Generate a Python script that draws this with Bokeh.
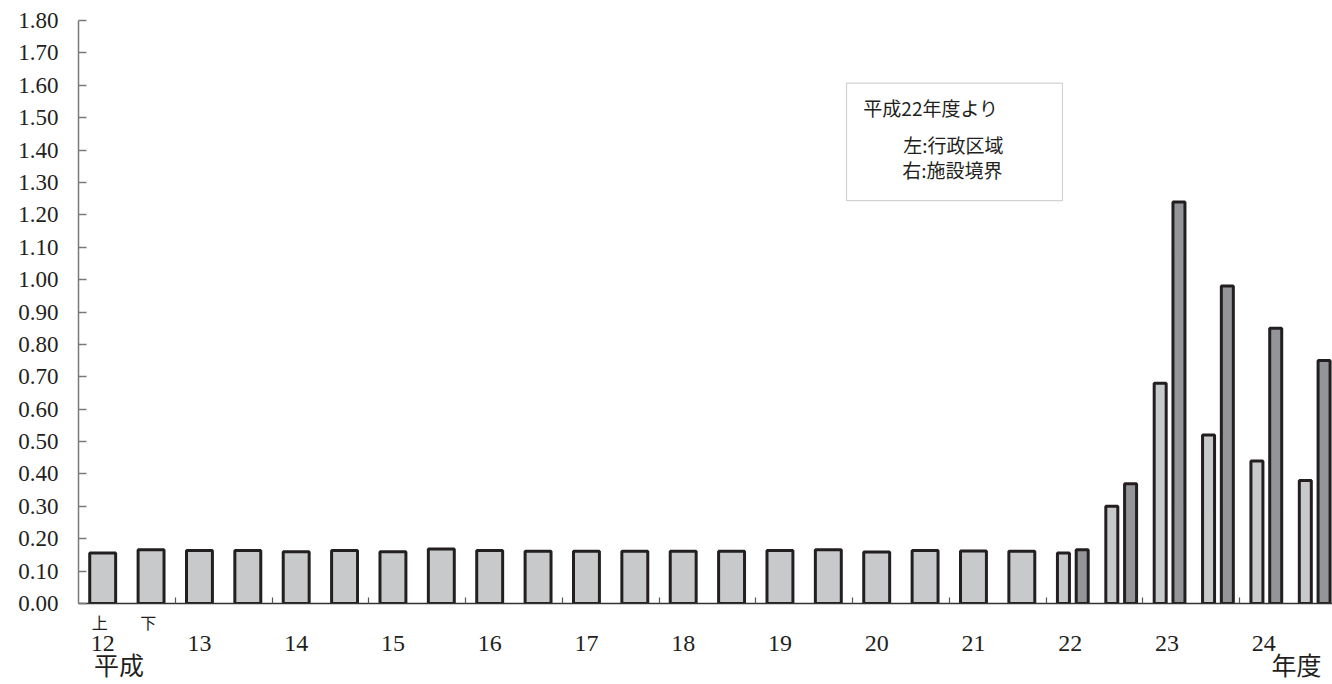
from bokeh.plotting import figure
from bokeh.models import Range1d, FixedTicker, PrintfTickFormatter, LinearAxis, BoxAnnotation, Label
from bokeh.embed import file_html
from bokeh.resources import INLINE

# ---------------- data ----------------
years = [12, 13, 14, 15, 16, 17, 18, 19, 20, 21, 22, 23, 24]
half_labels = ["上", "下"]
# single series: 12上 .. 21下
single_vals = [0.156, 0.166, 0.164, 0.164, 0.160, 0.164, 0.160, 0.168, 0.164, 0.161,
               0.161, 0.161, 0.161, 0.161, 0.164, 0.166, 0.159, 0.164, 0.162, 0.161]
# from 22上 .. 24下 : left = 行政区域, right = 施設境界
admin_vals = [0.156, 0.30, 0.68, 0.52, 0.44, 0.38]
site_vals = [0.166, 0.37, 1.24, 0.98, 0.85, 0.75]
y_ticks = [0.0, 0.1, 0.2, 0.3, 0.4, 0.5, 0.6, 0.7, 0.8, 0.9, 1.0, 1.1, 1.2, 1.3, 1.4, 1.5, 1.6, 1.7, 1.8]
legend_lines = ["平成22年度より", "左:行政区域", "右:施設境界"]
era_label = "平成"
unit_label = "年度"

# ---------------- styling ----------------
LIGHT = "#c8c9cb"
DARK = "#939598"
EDGE = "#231f20"
TXT = "#231f20"

slots_single = [y + 0.5 * h for y in years[:10] for h in range(2)]
slots_pair = [y + 0.5 * h for y in years[10:] for h in range(2)]

p = figure(width=1332, height=684, output_backend="svg", toolbar_location=None,
           x_range=Range1d(11.75, 24.711), y_range=Range1d(0, 1.8),
           x_axis_type=None,
           min_border_left=78, min_border_right=0, min_border_top=20, min_border_bottom=81)
p.outline_line_color = None
p.xgrid.visible = False
p.ygrid.visible = False
p.background_fill_color = "white"

# bars
p.vbar(x=slots_single, top=single_vals, width=0.268, bottom=0,
       fill_color=LIGHT, line_color=EDGE, line_width=3)
p.vbar(x=[s - 0.070 for s in slots_pair], top=admin_vals, width=0.124, bottom=0,
       fill_color=LIGHT, line_color=EDGE, line_width=3)
p.vbar(x=[s + 0.124 for s in slots_pair], top=site_vals, width=0.124, bottom=0,
       fill_color=DARK, line_color=EDGE, line_width=3)

# y axis
ya = p.yaxis[0]
ya.ticker = FixedTicker(ticks=y_ticks)
ya.formatter = PrintfTickFormatter(format="%.2f")
ya.major_tick_in = 8
ya.major_tick_out = 0
ya.minor_tick_line_color = None
ya.axis_line_color = "#7a7a7a"
ya.axis_line_width = 1.5
ya.major_tick_line_color = "#7a7a7a"
ya.major_tick_line_width = 1.5
ya.major_label_standoff = 20
ya.major_label_text_font = "Liberation Serif"
ya.major_label_text_font_size = "23px"
ya.major_label_text_color = TXT

# x axis 1: axis line, year-boundary ticks, 上 / 下 marks
half_ticks = [years[0] - 0.03 + 0.5 * i for i in range(len(half_labels))]
xa1 = LinearAxis(ticker=FixedTicker(ticks=half_ticks, minor_ticks=[y + 0.75 for y in years[:-1]]),
                 major_label_overrides={t: h for t, h in zip(half_ticks, half_labels)})
xa1.major_tick_line_color = None
xa1.major_tick_in = 0
xa1.major_tick_out = 0
xa1.minor_tick_in = 6
xa1.minor_tick_out = 0
xa1.minor_tick_line_color = "#555555"
xa1.minor_tick_line_width = 1.2
xa1.axis_line_color = "#333333"
xa1.axis_line_width = 1.5
xa1.major_label_standoff = 6
xa1.major_label_text_font = "Noto Sans CJK JP"
xa1.major_label_text_font_size = "16px"
xa1.major_label_text_color = TXT
p.add_layout(xa1, "below")

# x axis 2: year numbers
xa2 = LinearAxis(ticker=FixedTicker(ticks=years),
                 major_label_overrides={y: str(y) for y in years})
xa2.axis_line_color = None
xa2.major_tick_line_color = None
xa2.major_tick_in = 0
xa2.major_tick_out = 0
xa2.minor_tick_line_color = None
xa2.major_label_standoff = -1
xa2.major_label_text_font = "Liberation Serif"
xa2.major_label_text_font_size = "24px"
xa2.major_label_text_color = TXT
p.add_layout(xa2, "below")

# x axis 3: 平成 ... 年度
era_ticks = [12.169, 24.339]
xa3 = LinearAxis(ticker=FixedTicker(ticks=era_ticks),
                 major_label_overrides={era_ticks[0]: era_label, era_ticks[1]: unit_label})
xa3.axis_line_color = None
xa3.major_tick_line_color = None
xa3.major_tick_in = 0
xa3.major_tick_out = 0
xa3.minor_tick_line_color = None
xa3.major_label_standoff = -8
xa3.major_label_text_font = "Noto Sans CJK JP"
xa3.major_label_text_font_size = "25px"
xa3.major_label_text_color = TXT
p.add_layout(xa3, "below")

# legend-like note box
p.add_layout(BoxAnnotation(left=19.688, right=21.92, top=1.6065, bottom=1.2438,
                           fill_color="white", fill_alpha=1.0,
                           line_color="#6b6b6b", line_width=1.2))
legend_pos = [(19.862, 1.532), (20.275, 1.4185), (20.265, 1.341)]
for (lx, ly), t in zip(legend_pos, legend_lines):
    p.add_layout(Label(x=lx, y=ly, text=t, text_align="left", text_baseline="middle",
                       text_font="Noto Sans CJK JP", text_font_size="19px",
                       text_color=TXT))

open("out.html", "w").write(file_html(p, INLINE))
